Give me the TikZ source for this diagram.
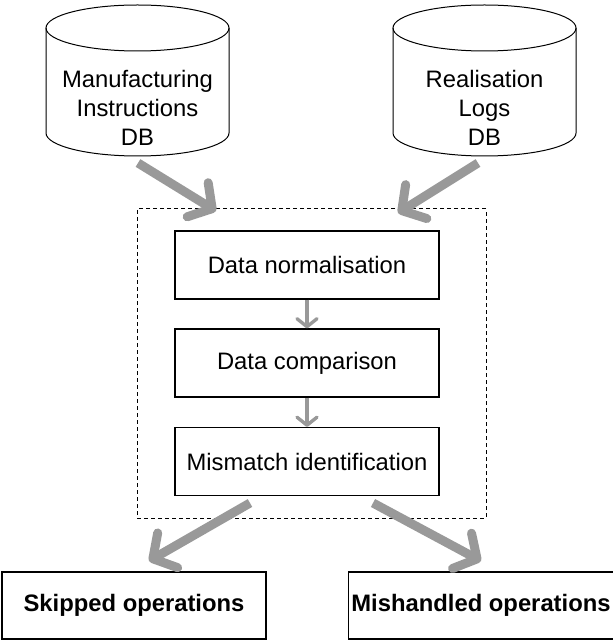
\documentclass[tikz,border=0pt]{standalone}
\usepackage{fontspec}
\setmainfont{Liberation Sans}
\usetikzlibrary{shapes, arrows, arrows.meta}
\definecolor{flowgray}{RGB}{153,153,153}
\tikzset{
  dbline/.style={draw, line width=0.5pt},
  dbtext/.style={align=center, font=\fontsize{11.9}{14.6}\selectfont},
  procbox/.style={draw, rectangle, minimum width=132pt, minimum height=34pt,
    line width=0.6pt, font=\fontsize{11.9}{14.6}\selectfont},
  outbox/.style={procbox, minimum height=33.5pt, font=\fontsize{11.9}{14.6}\selectfont\bfseries},
  groupbox/.style={draw, rectangle, minimum width=174.5pt, minimum height=154.5pt,
    line width=0.5pt, dash pattern=on 2pt off 1.5pt},
  bigarrow/.style={draw=flowgray, line width=4.5pt,
    -{Straight Barb[length=8.5pt, width=20pt, round]}},
  smallarrow/.style={draw=flowgray, line width=1.7pt,
    -{Straight Barb[length=4pt, width=10pt, round]}}
}
\begin{document}
\begin{tikzpicture}[x=0.5pt, y=-0.5pt]
            \useasboundingbox (0, 0) rectangle (612, 641);

            % databases (cylinders)
            \foreach \cx in {137.5, 484.5} {
              \draw[dbline] (\cx, 28) ellipse [x radius=91.5, y radius=23];
              \draw[dbline] (\cx-91.5, 28) -- (\cx-91.5, 133)
                arc[start angle=180, end angle=0, x radius=91.5, y radius=23]
                -- (\cx+91.5, 28);
            }
            \node[dbtext] (milabel) at (137.5, 108) {Manufacturing\\Instructions\\DB};
            \node[dbtext] (rllabel) at (484.5, 108) {Realisation\\Logs\\DB};

            % processing steps
            \node[groupbox] (core) at (311.5, 363.5) {};
            \node[procbox] (norm) at (307, 265) {Data normalisation};
            \node[procbox] (comp) at (307, 363) {Data comparison};
            \node[procbox] (mism) at (307, 461.5) {Mismatch identification};

            % results
            \node[outbox] (skip) at (134, 605.5) {Skipped operations};
            \node[outbox, minimum width=134pt] (mish) at (483, 605.5) {\hspace*{-2pt}Mishandled operations};

            \coordinate (mistart) at (138, 163);
            \coordinate (miend) at (216, 211);
            \coordinate (rlstart) at (478, 163);
            \coordinate (rlend) at (398, 213);
            \coordinate (skipstart) at (250, 503);
            \coordinate (skipend) at (149, 561);
            \coordinate (mishstart) at (373, 503);
            \coordinate (mishend) at (481, 561);

            \draw[bigarrow] (mistart) -- (miend);
            \draw[bigarrow] (rlstart) -- (rlend);
            \draw[smallarrow] (norm) -- (comp);
            \draw[smallarrow] (comp) -- (mism);
            \draw[bigarrow] (skipstart) -- (skipend);
            \draw[bigarrow] (mishstart) -- (mishend);
    	\end{tikzpicture}
\end{document}
